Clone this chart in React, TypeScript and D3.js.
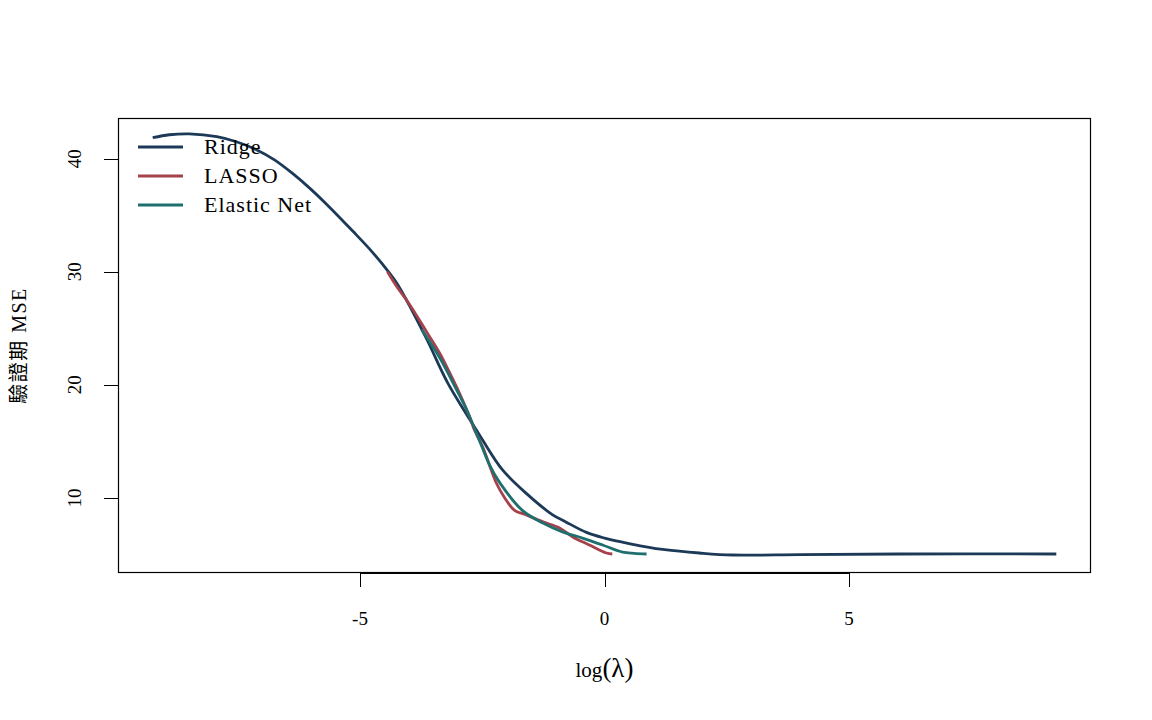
import { useEffect, useRef } from "react";
import * as d3 from "d3";

// values (x = log(lambda), y = validation MSE)
const ridgeX = [-9.24, -8.9, -8.49, -7.93, -7.53, -7.12, -6.75, -6.38, -6.03, -5.69, -5.15, -4.74, -4.4, -4.25, -4.05, -3.62, -3.21, -2.62, -2.49, -2.09, -1.6, -1.06, -0.8, -0.37, 0, 0.41, 0.82, 1.23, 1.94, 2.62, 3.99, 6.03, 9.24];
const ridgeY = [41.86, 42.12, 42.2, 41.95, 41.5, 40.8, 39.9, 38.7, 37.4, 36.0, 33.6, 31.7, 29.9, 29.0, 27.5, 23.9, 20.2, 16.0, 15.1, 12.5, 10.4, 8.5, 7.9, 6.95, 6.45, 6.05, 5.7, 5.42, 5.13, 4.95, 4.98, 5.04, 5.04];

const lassoX = [-4.44, -4.25, -4.0, -3.64, -3.37, -3.17, -2.97, -2.76, -2.66, -2.49, -2.21, -2.04, -1.84, -1.6, -1.27, -0.92, -0.65, -0.31, 0.04, 0.16];
const lassoY = [30.0, 28.7, 27.2, 24.7, 22.8, 21.1, 19.3, 17.2, 16.0, 14.5, 11.3, 10.0, 8.9, 8.5, 7.9, 7.35, 6.55, 5.84, 5.13, 5.04];

const enetX = [-3.74, -3.37, -3.03, -2.8, -2.56, -2.35, -2.15, -1.68, -1.27, -0.86, -0.45, -0.04, 0.37, 0.61, 0.86];
const enetY = [24.9, 22.4, 19.6, 17.6, 15.1, 12.9, 11.4, 8.9, 7.8, 7.0, 6.45, 5.84, 5.2, 5.1, 5.04];

const seriesNames = ["Ridge", "LASSO", "Elastic Net"];
const seriesColors = ["#1c3a57", "#a6404a", "#1f6f6f"];
const xTicks = [-5, 0, 5];
const yTicks = [10, 20, 30, 40];

const width = 1152;
const height = 720;
const margin = { top: 118, right: 61, bottom: 147, left: 118 };

function App() {
  const ref = useRef<SVGSVGElement>(null);

  useEffect(() => {
    const svg = d3.select(ref.current);
    svg.selectAll("*").remove();

    const x = d3.scaleLinear().domain([-9.95, 9.95]).range([margin.left, width - margin.right]);
    const y = d3.scaleLinear().domain([3.36, 43.6]).range([height - margin.bottom, margin.top]);
    const font = "'Liberation Serif', 'Noto Sans CJK TC', serif";

    const series = [
      { xs: ridgeX, ys: ridgeY },
      { xs: lassoX, ys: lassoY },
      { xs: enetX, ys: enetY },
    ];

    const line = d3.line<[number, number]>()
      .x(d => x(d[0]))
      .y(d => y(d[1]))
      .curve(d3.curveCatmullRom.alpha(0.5));

    series.forEach((s, i) => {
      svg.append("path")
        .attr("d", line(s.xs.map((v, j) => [v, s.ys[j]] as [number, number])))
        .attr("fill", "none")
        .attr("stroke", seriesColors[i])
        .attr("stroke-width", 2.8)
        .attr("stroke-linejoin", "round");
    });

    // box
    svg.append("rect")
      .attr("x", margin.left + 0.5)
      .attr("y", margin.top + 0.5)
      .attr("width", width - margin.left - margin.right - 1)
      .attr("height", height - margin.bottom - margin.top - 1)
      .attr("fill", "none")
      .attr("stroke", "#000")
      .attr("stroke-width", 1.2);

    // x axis
    const xb = height - margin.bottom;
    const gx = svg.append("g");
    gx.append("line")
      .attr("x1", x(xTicks[0])).attr("x2", x(xTicks[xTicks.length - 1]))
      .attr("y1", xb + 0.5).attr("y2", xb + 0.5)
      .attr("stroke", "#000");
    gx.selectAll(".xt").data(xTicks).join("line")
      .attr("x1", d => Math.round(x(d)) + 0.5).attr("x2", d => Math.round(x(d)) + 0.5)
      .attr("y1", xb).attr("y2", xb + 14)
      .attr("stroke", "#000");
    gx.selectAll(".xl").data(xTicks).join("text")
      .attr("x", d => x(d))
      .attr("y", xb + 52)
      .attr("text-anchor", "middle")
      .attr("font-family", font)
      .attr("font-size", 19)
      .text(d => String(d));

    // y axis
    const yl = margin.left;
    const gy = svg.append("g");
    gy.selectAll(".yt").data(yTicks).join("line")
      .attr("x1", yl - 14).attr("x2", yl)
      .attr("y1", d => Math.round(y(d)) + 0.5).attr("y2", d => Math.round(y(d)) + 0.5)
      .attr("stroke", "#000");
    gy.selectAll(".yl").data(yTicks).join("text")
      .attr("transform", d => `translate(${yl - 37},${y(d)}) rotate(-90)`)
      .attr("text-anchor", "middle")
      .attr("font-family", font)
      .attr("font-size", 19)
      .text(d => String(d));

    // axis titles
    const xt = svg.append("text")
      .attr("x", x(0))
      .attr("y", 677)
      .attr("text-anchor", "middle")
      .attr("font-family", font)
      .attr("font-size", 21);
    xt.append("tspan").text("log");
    xt.append("tspan").attr("font-size", 27).text("(λ)");

    svg.append("text")
      .attr("transform", `translate(26,${(margin.top + height - margin.bottom) / 2}) rotate(-90)`)
      .attr("text-anchor", "middle")
      .attr("font-family", font)
      .attr("font-size", 20)
      .attr("letter-spacing", 1.5)
      .text("驗證期 MSE");

    // legend
    const lg = svg.append("g");
    seriesNames.forEach((name, i) => {
      const ly = 147 + i * 29;
      lg.append("line")
        .attr("x1", 138).attr("x2", 183)
        .attr("y1", ly).attr("y2", ly)
        .attr("stroke", seriesColors[i])
        .attr("stroke-width", 2.8);
      lg.append("text")
        .attr("x", 204)
        .attr("y", ly + 7)
        .attr("font-family", font)
        .attr("font-size", 22)
        .attr("letter-spacing", 1)
        .text(name);
    });
  }, []);

  return (
    <div style={{ position: "absolute", left: 0, top: 0 }}>
      <svg ref={ref} width={width} height={height} style={{ display: "block", background: "#fff" }} />
    </div>
  );
}

export default App;
